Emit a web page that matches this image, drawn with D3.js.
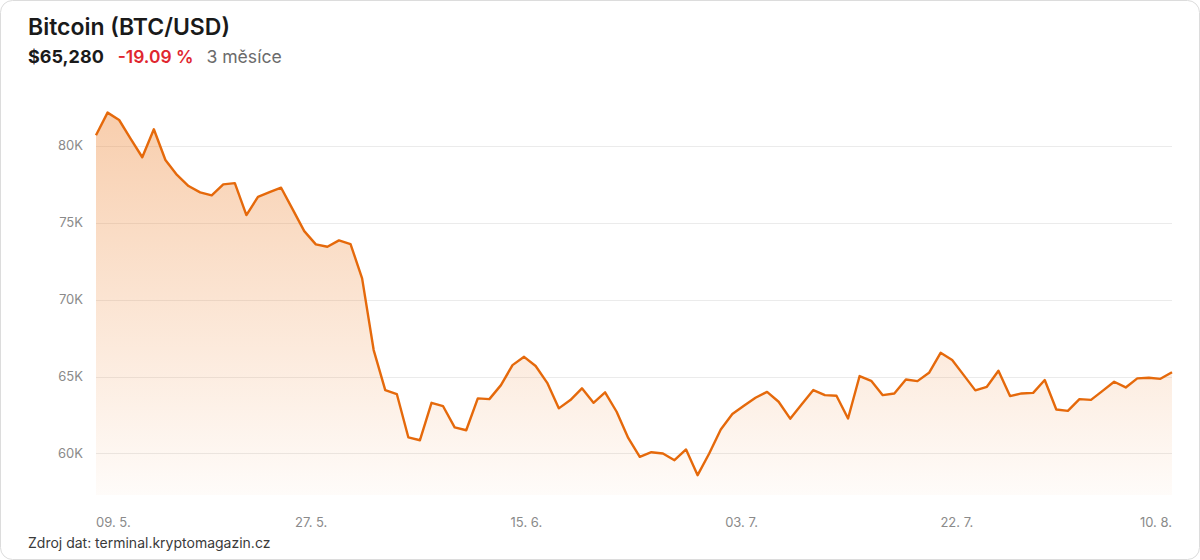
<!DOCTYPE html>
<html>
<head>
<meta charset="utf-8">
<script src="https://cdn.jsdelivr.net/npm/d3@7/dist/d3.min.js"></script>
<style>
  html, body { margin: 0; padding: 0; background: #fff; }
  body { font-family: Inter, "Noto Sans", sans-serif; }
  svg text { font-family: Inter, "Noto Sans", sans-serif; }
</style>
</head>
<body>
<svg id="chart" width="1200" height="560"></svg>
<script>
const titleText = "Bitcoin (BTC/USD)";
const priceText = "$65,280";
const changeText = "-19.09 %";
const periodText = "3 měsíce";
const sourceText = "Zdroj dat: terminal.kryptomagazin.cz";

const startDate = "2024-05-09";
const prices = [
  80680, 82150, 81670, 80450, 79250, 81070, 79070, 78100, 77380, 76970,
  76770, 77490, 77570, 75490, 76680, 76980, 77270, 75860, 74450, 73590,
  73430, 73850, 73610, 71380, 66720, 64120, 63860, 61040, 60860, 63290,
  63070, 61690, 61510, 63580, 63530, 64440, 65740, 66280, 65680, 64590,
  62930, 63470, 64230, 63290, 63970, 62710, 61010, 59780, 60080, 60000,
  59560, 60260, 58590, 60000, 61560, 62560, 63100, 63620, 64000, 63360,
  62260, 63200, 64120, 63790, 63750, 62270, 65030, 64720, 63790, 63900,
  64810, 64700, 65240, 66540, 66070, 65090, 64100, 64330, 65370, 63730,
  63900, 63940, 64770, 62860, 62770, 63530, 63480, 64070, 64660, 64290,
  64880, 64920, 64850, 65280
];
const yTicks = [60000, 65000, 70000, 75000, 80000];
const yTickLabels = ["60K", "65K", "70K", "75K", "80K"];
const xTickLabels = ["09. 5.", "27. 5.", "15. 6.", "03. 7.", "22. 7.", "10. 8."];
const yDomain = [57300, 82970];

const svg = d3.select("#chart");
const W = 1200, H = 560;
const plot = { left: 96, right: 1172, top: 100, bottom: 495 };

// card
svg.append("rect")
  .attr("x", 0.5).attr("y", 0.5)
  .attr("width", W - 1).attr("height", H - 1)
  .attr("rx", 12).attr("ry", 12)
  .attr("fill", "#fff").attr("stroke", "#dcdcdc");

const parse = d3.timeParse("%Y-%m-%d");
const d0 = parse(startDate);
const data = prices.map((v, i) => ({ date: d3.timeDay.offset(d0, i), value: v }));

const x = d3.scaleTime()
  .domain(d3.extent(data, d => d.date))
  .range([plot.left, plot.right]);
const y = d3.scaleLinear()
  .domain(yDomain)
  .range([plot.bottom, plot.top]);

// gradient
const defs = svg.append("defs");
const grad = defs.append("linearGradient")
  .attr("id", "areaGrad")
  .attr("gradientUnits", "userSpaceOnUse")
  .attr("x1", 0).attr("x2", 0)
  .attr("y1", y(d3.max(prices))).attr("y2", plot.bottom);
grad.append("stop").attr("offset", "0%").attr("stop-color", "#ee8a3c").attr("stop-opacity", 0.42);
grad.append("stop").attr("offset", "100%").attr("stop-color", "#ee8a3c").attr("stop-opacity", 0.03);

// grid
svg.append("g").selectAll("line")
  .data(yTicks)
  .join("line")
  .attr("x1", plot.left).attr("x2", plot.right)
  .attr("y1", d => Math.round(y(d)) + 0.5).attr("y2", d => Math.round(y(d)) + 0.5)
  .attr("stroke", "#ebebeb").attr("stroke-width", 1);

// area
svg.append("path")
  .datum(data)
  .attr("fill", "url(#areaGrad)")
  .attr("d", d3.area().x(d => x(d.date)).y0(plot.bottom).y1(d => y(d.value)));

// line
svg.append("path")
  .datum(data)
  .attr("fill", "none")
  .attr("stroke", "#e5690b")
  .attr("stroke-width", 2.4)
  .attr("stroke-linejoin", "round")
  .attr("d", d3.line().x(d => x(d.date)).y(d => y(d.value)));

// y labels
svg.append("g").selectAll("text")
  .data(yTicks)
  .join("text")
  .attr("x", 83)
  .attr("y", d => y(d))
  .attr("dy", "0.35em")
  .attr("text-anchor", "end")
  .attr("font-size", 13)
  .attr("fill", "#8a8a8a")
  .text((d, i) => yTickLabels[i]);

// x labels at evenly spaced times
const [t0, t1] = x.domain();
const n = xTickLabels.length - 1;
svg.append("g").selectAll("text")
  .data(xTickLabels)
  .join("text")
  .attr("x", (d, i) => x(new Date(+t0 + (t1 - t0) * i / n)))
  .attr("y", 527)
  .attr("text-anchor", (d, i) => i === 0 ? "start" : (i === n ? "end" : "middle"))
  .attr("font-size", 13)
  .attr("fill", "#8a8a8a")
  .text(d => d);

// header
svg.append("text")
  .attr("x", 28).attr("y", 35)
  .attr("font-size", 23).attr("font-weight", 600)
  .attr("fill", "#1a1a1a")
  .text(titleText);

const sub = svg.append("text").attr("x", 28).attr("y", 63).attr("font-size", 18);
sub.append("tspan").attr("font-weight", 700).attr("fill", "#1a1a1a").text(priceText);
sub.append("tspan").attr("dx", 14).attr("font-weight", 600).attr("font-size", 17.4).attr("fill", "#e0262f").text(changeText);
sub.append("tspan").attr("dx", 13).attr("font-weight", 400).attr("font-size", 17.6).attr("fill", "#6b6b6b").text(periodText);

// source
svg.append("text")
  .attr("x", 28).attr("y", 548)
  .attr("font-size", 14)
  .attr("fill", "#3a3a3a")
  .text(sourceText);
</script>
</body>
</html>
